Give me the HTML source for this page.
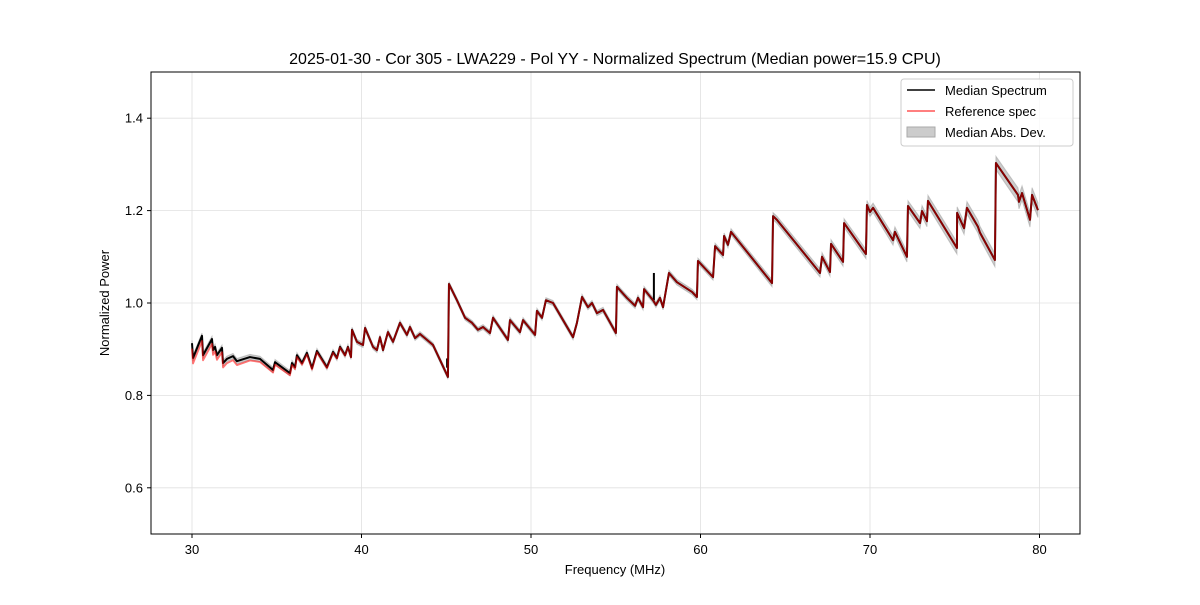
<!DOCTYPE html>
<html><head><meta charset="utf-8"><style>
body{margin:0;background:#fff;font-family:"Liberation Sans","DejaVu Sans",sans-serif}
svg text{font-family:"Liberation Sans","DejaVu Sans",sans-serif;fill:#000}
</style></head><body>
<svg id="chart" width="1200" height="600" xmlns="http://www.w3.org/2000/svg">
<rect width="1200" height="600" fill="#fff"/>
<text x="615" y="64" font-size="16" text-anchor="middle">2025-01-30 - Cor 305 - LWA229 - Pol YY - Normalized Spectrum (Median power=15.9 CPU)</text>
<g id="grid"></g>
<g id="series"></g>
<rect x="151" y="72" width="929" height="462" fill="none" stroke="#000" stroke-width="1"/>
<g id="axes"></g>
<text x="615" y="574" font-size="13" text-anchor="middle">Frequency (MHz)</text>
<text transform="translate(109,303) rotate(-90)" font-size="13" text-anchor="middle">Normalized Power</text>
<g>
<rect x="901" y="79" width="172" height="67" rx="3" fill="#fff" fill-opacity="0.8" stroke="#ccc"/>
<line x1="907" y1="90" x2="935" y2="90" stroke="#000" stroke-width="1.5"/>
<text x="945" y="95" font-size="13">Median Spectrum</text>
<line x1="907" y1="111" x2="935" y2="111" stroke="#f55" stroke-width="1.5"/>
<text x="945" y="116" font-size="13">Reference spec</text>
<rect x="907" y="127" width="28" height="10" fill="#ccc" stroke="#aaa"/>
<text x="945" y="137" font-size="13">Median Abs. Dev.</text>
</g>
</svg>
<script>
const freqs=[30.0,30.06,30.59,30.65,31.18,31.24,31.36,31.47,31.77,31.83,32.06,32.42,32.65,33.42,34.01,34.78,34.9,35.78,35.9,36.08,36.19,36.49,36.78,37.08,37.37,37.96,38.32,38.55,38.73,39.03,39.2,39.38,39.44,39.73,40.09,40.21,40.68,40.91,41.09,41.27,41.56,41.86,42.27,42.68,42.86,43.16,43.45,44.22,45.1,45.16,45.63,46.11,46.52,46.87,47.17,47.58,47.76,48.64,48.76,49.35,49.53,50.24,50.35,50.65,50.88,51.3,52.48,52.71,53.01,53.36,53.6,53.89,54.25,55.01,55.07,55.66,56.14,56.31,56.61,56.67,57.2,57.37,57.61,57.79,58.14,58.61,59.5,59.79,59.85,60.74,60.86,61.33,61.39,61.62,61.8,64.22,64.28,64.51,67.05,67.17,67.64,67.7,68.41,68.47,69.76,69.82,70.0,70.18,71.36,71.47,72.18,72.24,72.95,73.07,73.36,73.42,75.13,75.14,75.55,75.72,76.37,76.49,77.37,77.43,78.73,78.79,78.97,79.44,79.56,79.91];
const medianPower=[0.913,0.881,0.929,0.887,0.922,0.898,0.905,0.887,0.903,0.87,0.879,0.885,0.874,0.883,0.879,0.855,0.872,0.848,0.87,0.861,0.887,0.87,0.892,0.859,0.896,0.861,0.894,0.881,0.905,0.887,0.905,0.883,0.942,0.916,0.909,0.946,0.905,0.898,0.926,0.898,0.937,0.916,0.957,0.931,0.948,0.924,0.933,0.909,0.84,1.041,1.006,0.968,0.957,0.942,0.948,0.935,0.968,0.92,0.963,0.937,0.963,0.931,0.983,0.968,1.006,1.0,0.926,0.957,1.013,0.991,1.0,0.978,0.985,0.935,1.035,1.011,0.994,1.011,0.991,1.03,1.006,0.996,1.011,0.991,1.065,1.045,1.024,1.013,1.091,1.056,1.123,1.104,1.145,1.126,1.154,1.043,1.188,1.18,1.065,1.1,1.067,1.128,1.089,1.173,1.106,1.212,1.197,1.206,1.136,1.154,1.1,1.21,1.173,1.199,1.177,1.221,1.119,1.195,1.162,1.206,1.165,1.152,1.093,1.303,1.234,1.219,1.238,1.18,1.234,1.201];
// reference spectrum offset from median (read at a few frequencies)
const refOffFreq=[30,36,40,80];
const refOffVal=[-0.012,-0.004,0,0];
// median absolute deviation half-width
const madFreq=[30,45,60,70,80];
const madVal=[0.006,0.005,0.006,0.01,0.016];
// isolated spikes only in median spectrum
const spikeFreq=[57.25,45.05];
const spikeLo=[1.006,0.86];
const spikeHi=[1.065,0.88];
const xTicks=[30,40,50,60,70,80];
const yTicks=[0.6,0.8,1.0,1.2,1.4];

const NS="http://www.w3.org/2000/svg";
const X=f=>192+(f-30)*16.95;
const Y=p=>534-(p-0.5)*462;
function lerp(xs,vs,x){for(let i=0;i<xs.length-1;i++){if(x<=xs[i+1]){const t=(x-xs[i])/(xs[i+1]-xs[i]);return vs[i]+t*(vs[i+1]-vs[i]);}}return vs[vs.length-1];}
function mk(tag,attrs,parent){const e=document.createElementNS(NS,tag);for(const k in attrs)e.setAttribute(k,attrs[k]);parent.appendChild(e);return e;}
const grid=document.getElementById('grid'),axes=document.getElementById('axes'),ser=document.getElementById('series');
xTicks.forEach(t=>{
 const g=mk('line',{x1:X(t),x2:X(t),y1:72,y2:534,stroke:'#e0e0e0','stroke-width':0.8},grid);
 
 
 const tk=mk('line',{x1:X(t),x2:X(t),y1:534,y2:538,stroke:'#000'},axes);
 
 
 const tx=mk('text',{x:X(t),y:554,'font-size':13,'text-anchor':'middle'},axes);
 tx.textContent=t;
 
 
});
yTicks.forEach(t=>{
 const g=mk('line',{x1:151,x2:1080,y1:Y(t),y2:Y(t),stroke:'#e0e0e0','stroke-width':0.8},grid);
 
 
 const tk=mk('line',{x1:147,x2:151,y1:Y(t),y2:Y(t),stroke:'#000'},axes);
 
 
 const tx=mk('text',{x:143,y:Y(t)+4.5,'font-size':13,'text-anchor':'end'},axes);
 tx.textContent=t.toFixed(1);
 
 
});
let up=[],dn=[];
freqs.forEach((f,i)=>{const m=lerp(madFreq,madVal,f);up.push(X(f)+','+Y(medianPower[i]+m));dn.push(X(f)+','+Y(medianPower[i]-m));});
const band=mk('polygon',{points:up.concat(dn.reverse()).join(' '),fill:'#999','fill-opacity':0.5,stroke:'#999','stroke-opacity':0.5,'stroke-width':1},ser);


const med=mk('polyline',{points:freqs.map((f,i)=>X(f)+','+Y(medianPower[i])).join(' '),fill:'none',stroke:'#000','stroke-width':2,'stroke-linejoin':'round'},ser);


spikeFreq.forEach((f,i)=>{
 const s=mk('line',{x1:X(f),x2:X(f),y1:Y(spikeLo[i]),y2:Y(spikeHi[i]),stroke:'#000','stroke-width':2},ser);
 
 
});
const ref=mk('polyline',{points:freqs.map((f,i)=>X(f)+','+Y(medianPower[i]+lerp(refOffFreq,refOffVal,f))).join(' '),fill:'none',stroke:'#ff0000','stroke-opacity':0.55,'stroke-width':1.8,'stroke-linejoin':'round'},ser);


</script>
</body></html>
